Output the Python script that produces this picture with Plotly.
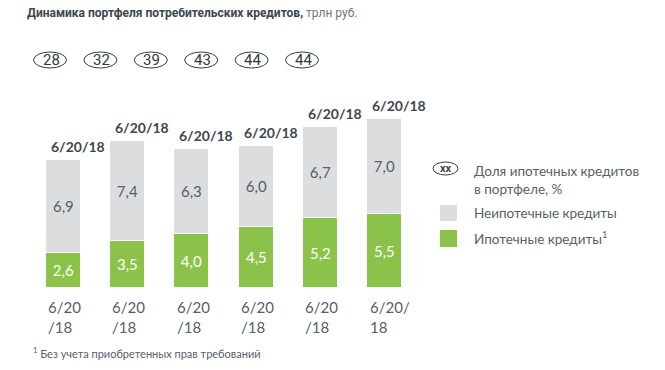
import plotly.graph_objects as go

categories = ["6/20/18"] * 6
tick_labels = ["6/20<br>/18", "6/20<br>/18", "6/20<br>/18", "6/20<br>/18", "6/20<br>/18", "6/20/<br>18"]
total_labels = ["6/20/18"] * 6
mortgage = [2.6, 3.5, 4.0, 4.5, 5.2, 5.5]
non_mortgage = [6.9, 7.4, 6.3, 6.0, 6.7, 7.0]
mortgage_share = [28, 32, 39, 43, 44, 44]

W, H = 665, 370
OFF = 8  # page body margin
GREEN = "#8bc34a"
GRAY = "#dcdddf"
DARK = "#3b4750"
MID = "#55606a"
FONT = "Lato"


def px(v):
    return (v - OFF) / W


def py(v):
    return (H - (v - OFF)) / H


x = list(range(len(categories)))
fmt = lambda v: f"{v:.1f}".replace(".", ",")

fig = go.Figure()
fig.add_trace(go.Bar(
    x=x, y=mortgage, width=0.544, marker=dict(color=GREEN, line=dict(color="white", width=1)),
    text=[fmt(v) for v in mortgage], textposition="inside", insidetextanchor="middle",
    textfont=dict(family=FONT, size=15, color="white"), name="Ипотечные кредиты",
    showlegend=False, hoverinfo="skip", textangle=0, cliponaxis=False))
fig.add_trace(go.Bar(
    x=x, y=non_mortgage, width=0.544, marker=dict(color=GRAY, line=dict(color="white", width=1)),
    text=[fmt(v) for v in non_mortgage], textposition="inside", insidetextanchor="middle",
    textfont=dict(family=FONT, size=15, color=MID), name="Неипотечные кредиты",
    showlegend=False, hoverinfo="skip", textangle=0, cliponaxis=False))

x0_px, step_px = 31.35, 64.3
bottom_px, top_px = 288, 20
ppu = 13.5

annotations = []
shapes = []
for i, (m, n) in enumerate(zip(mortgage, non_mortgage)):
    annotations.append(dict(x=i + 0.22, y=m + n, xref="x", yref="y", text=f"<b>{total_labels[i]}</b>",
                            showarrow=False, xanchor="center", yanchor="bottom", yshift=3,
                            font=dict(family=FONT, size=14, color=DARK)))
    annotations.append(dict(x=i - 0.272, y=py(296), xref="x", yref="paper", text=tick_labels[i],
                            showarrow=False, xanchor="left", yanchor="top", align="left",
                            font=dict(family=FONT, size=15, color=MID)))

for i, s in enumerate(mortgage_share):
    cx, cy = 50 + 50.4 * i, 60
    shapes.append(dict(type="circle", xref="paper", yref="paper",
                       x0=px(cx - 16.5), x1=px(cx + 16.5), y0=py(cy + 8), y1=py(cy - 8),
                       line=dict(color="#333c42", width=1)))
    annotations.append(dict(x=px(cx + 1), y=py(cy), xref="paper", yref="paper", text=str(s),
                            xanchor="center", yanchor="middle",
                            showarrow=False, font=dict(family="Roboto", size=15, color="#2f3a42")))

annotations.append(dict(x=px(25), y=py(13), xref="paper", yref="paper", xanchor="left", yanchor="middle",
                        text="<b>Динамика портфеля потребительских кредитов,</b><span style='color:#6b7780'> трлн руб.</span>",
                        showarrow=False, font=dict(family="Roboto", size=12, color=DARK)))

shapes.append(dict(type="circle", xref="paper", yref="paper",
                   x0=px(433), x1=px(458), y0=py(175), y1=py(162), line=dict(color="#333c42", width=1)))
annotations.append(dict(x=px(446), y=py(168.5), xref="paper", yref="paper", text="<b>xx</b>",
                        xanchor="center", yanchor="middle",
                        showarrow=False, font=dict(family="Roboto", size=11, color=DARK)))
annotations.append(dict(x=px(472), y=py(180), xref="paper", yref="paper", xanchor="left", yanchor="middle",
                        align="left", text="Доля ипотечных кредитов<br>в портфеле, %", showarrow=False,
                        font=dict(family=FONT, size=13.5, color=MID)))
shapes.append(dict(type="rect", xref="paper", yref="paper", x0=px(440), x1=px(457),
                   y0=py(221), y1=py(205), fillcolor=GRAY, line=dict(width=0)))
annotations.append(dict(x=px(472), y=py(213), xref="paper", yref="paper", xanchor="left", yanchor="middle",
                        text="Неипотечные кредиты", showarrow=False, font=dict(family=FONT, size=13.5, color=MID)))
shapes.append(dict(type="rect", xref="paper", yref="paper", x0=px(440), x1=px(457),
                   y0=py(247), y1=py(230), fillcolor=GREEN, line=dict(width=0)))
annotations.append(dict(x=px(472), y=py(238), xref="paper", yref="paper", xanchor="left", yanchor="middle",
                        text="Ипотечные кредиты<sup>1</sup>", showarrow=False, font=dict(family=FONT, size=13.5, color=MID)))

annotations.append(dict(x=px(31), y=py(352), xref="paper", yref="paper", xanchor="left", yanchor="middle",
                        text="<sup>1</sup> Без учета приобретенных прав требований", showarrow=False,
                        font=dict(family=FONT, size=11, color=MID)))

fig.update_layout(
    width=W, height=H, margin=dict(l=0, r=0, t=0, b=0),
    paper_bgcolor="white", plot_bgcolor="white", barmode="stack", bargap=0,
    xaxis=dict(domain=[px(x0_px), px(x0_px + 6 * step_px)], range=[-0.5, 5.5],
               showticklabels=False, showgrid=False, zeroline=False, fixedrange=True),
    yaxis=dict(domain=[py(bottom_px), py(top_px)], range=[0, (bottom_px - top_px) / ppu],
               showticklabels=False, showgrid=False, zeroline=False, fixedrange=True),
    annotations=annotations, shapes=shapes,
)

fig.write_html("out.html")
